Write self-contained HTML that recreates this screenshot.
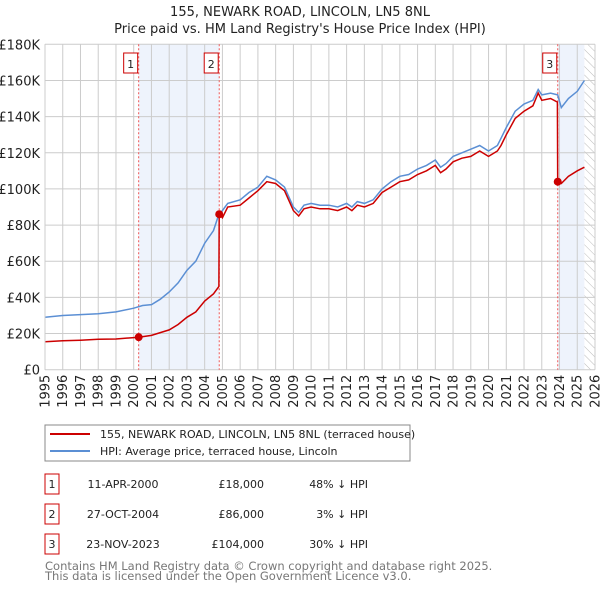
<!DOCTYPE html>
<html><head><meta charset="utf-8"><style>
body{margin:0;background:#fff;width:600px;height:590px;overflow:hidden;font-family:"Liberation Sans","DejaVu Sans",sans-serif}
svg text{font-family:"DejaVu Sans","Liberation Sans",sans-serif}
</style></head><body>
<svg id="chart" width="600" height="590" xmlns="http://www.w3.org/2000/svg">
<defs><pattern id="hatch" width="6" height="6" patternUnits="userSpaceOnUse" patternTransform="rotate(-45)"><line x1="0" y1="0" x2="0" y2="6" stroke="#bbb" stroke-width="1"/></pattern></defs>
<text x="300" y="16" text-anchor="middle" font-size="13" fill="#222">155, NEWARK ROAD, LINCOLN, LN5 8NL</text>
<text x="300" y="33" text-anchor="middle" font-size="13" fill="#222">Price paid vs. HM Land Registry's House Price Index (HPI)</text>
<g id="grid"></g><g id="plot"></g><g id="axes"></g>
<g>
<rect x="45" y="425" width="365" height="36" fill="#fff" stroke="#888"/>
<line x1="50" y1="434" x2="90" y2="434" stroke="#cc0000" stroke-width="2"/>
<text x="100" y="438" font-size="11" fill="#222">155, NEWARK ROAD, LINCOLN, LN5 8NL (terraced house)</text>
<line x1="50" y1="451" x2="90" y2="451" stroke="#5b8fd4" stroke-width="2"/>
<text x="100" y="455" font-size="11" fill="#222">HPI: Average price, terraced house, Lincoln</text>
</g>
<g id="table"></g>
<text x="45" y="570" font-size="11.5" fill="#777">Contains HM Land Registry data © Crown copyright and database right 2025.</text>
<text x="45" y="580" font-size="11.5" fill="#777">This data is licensed under the Open Government Licence v3.0.</text>
</svg>
<script>
const yTicks=[0,20000,40000,60000,80000,100000,120000,140000,160000,180000];
const yTickLabels=["£0","£20K","£40K","£60K","£80K","£100K","£120K","£140K","£160K","£180K"];
const xYears=[1995,1996,1997,1998,1999,2000,2001,2002,2003,2004,2005,2006,2007,2008,2009,2010,2011,2012,2013,2014,2015,2016,2017,2018,2019,2020,2021,2022,2023,2024,2025,2026];
const hpiT=[1995,1996,1997,1998,1999,2000,2000.5,2001,2001.5,2002,2002.5,2003,2003.5,2004,2004.5,2004.8,2005,2005.3,2006,2006.5,2007,2007.5,2008,2008.5,2009,2009.3,2009.6,2010,2010.5,2011,2011.5,2012,2012.3,2012.6,2013,2013.5,2014,2014.5,2015,2015.5,2016,2016.5,2017,2017.3,2017.6,2018,2018.5,2019,2019.5,2020,2020.5,2020.7,2021,2021.5,2022,2022.5,2022.8,2023,2023.5,2023.9,2024.1,2024.5,2025,2025.4];
const hpiV=[29,30,30.5,31,32,34,35.5,36,39,43,48,55,60,70,77,86,88,92,94,98,101,107,105,101,90,87,91,92,91,91,90,92,90,93,92,94,100,104,107,108,111,113,116,112,114,118,120,122,124,121,124,128,134,143,147,149,155,152,153,152,145,150,154,160];
const redT=[1995,1996,1997,1998,1999,2000.28,2001,2001.5,2002,2002.5,2003,2003.5,2004,2004.5,2004.8,2004.82,2005,2005.3,2006,2006.5,2007,2007.5,2008,2008.5,2009,2009.3,2009.6,2010,2010.5,2011,2011.5,2012,2012.3,2012.6,2013,2013.5,2014,2014.5,2015,2015.5,2016,2016.5,2017,2017.3,2017.6,2018,2018.5,2019,2019.5,2020,2020.5,2020.7,2021,2021.5,2022,2022.5,2022.8,2023,2023.5,2023.88,2023.9,2024.1,2024.5,2025,2025.4];
const redV=[15.5,16,16.3,16.8,17,18,19,20.5,22,25,29,32,38,42,46,86,84,90,91,95,99,104,103,99,88,85,89,90,89,89,88,90,88,91,90,92,98,101,104,105,108,110,113,109,111,115,117,118,121,118,121,124,130,139,143,146,153,149,150,148,104,103,107,110,112];
const saleT=[2000.28,2004.82,2023.9];
const saleV=[18000,86000,104000];
const saleLabels=["1","2","3"];
const saleDates=["11-APR-2000","27-OCT-2004","23-NOV-2023"];
const salePrices=["£18,000","£86,000","£104,000"];
const saleDiffs=["48% ↓ HPI","3% ↓ HPI","30% ↓ HPI"];
const X0=45,X1=595,Y0=369.7,Y1=44.3;
const xs=t=>X0+(t-1995)/31*(X1-X0);
const ys=v=>Y0-v/180000*(Y0-Y1);
const NS="http://www.w3.org/2000/svg";
function mk(tag,attrs,parent,text){const e=document.createElementNS(NS,tag);for(const k in attrs)e.setAttribute(k,attrs[k]);if(text!==undefined)e.textContent=text;parent.appendChild(e);return e;}
const grid=document.getElementById('grid'),plot=document.getElementById('plot'),axes=document.getElementById('axes'),table=document.getElementById('table');
// shading
let s=mk('rect',{x:xs(saleT[0]),y:Y1,width:xs(saleT[1])-xs(saleT[0]),height:Y0-Y1,fill:'#eef3fc'},grid);


s=mk('rect',{x:xs(saleT[2]),y:Y1,width:xs(2025.4)-xs(saleT[2]),height:Y0-Y1,fill:'#eef3fc'},grid);


s=mk('rect',{x:xs(2025.4),y:Y1,width:X1-xs(2025.4),height:Y0-Y1,fill:'url(#hatch)'},grid);


yTicks.forEach((v,i)=>{
 const l=mk('line',{x1:X0,x2:X1,y1:ys(v),y2:ys(v),stroke:'#ccc'},grid);
 
 
 const t=mk('text',{x:X0-5,y:ys(v)+5,'text-anchor':'end','font-size':'13',fill:'#222'},axes,yTickLabels[i]);
 
 
});
xYears.forEach(yr=>{
 const l=mk('line',{x1:xs(yr),x2:xs(yr),y1:Y1,y2:Y0,stroke:'#ccc'},grid);
 
 
 const x=xs(yr),y=Y0+5;
 const t=mk('text',{x:x+4.5,y:y,'text-anchor':'end','font-size':'13',fill:'#222',transform:`rotate(-90 ${x+4.5} ${y})`},axes,String(yr));
 
 
});
saleT.forEach((t,i)=>{
 const l=mk('line',{x1:xs(t),x2:xs(t),y1:Y1,y2:Y0,stroke:'#e55','stroke-dasharray':'2,2'},grid);
 
 
 const r=mk('rect',{x:xs(t)-15,y:53,width:14,height:20,fill:'#fff',stroke:'#c00'},grid);
 
 
 mk('text',{x:xs(t)-8,y:68,'text-anchor':'middle','font-size':'11',fill:'#222'},grid,saleLabels[i]);
});
const hp=mk('path',{d:hpiT.map((t,i)=>(i?'L':'M')+xs(t).toFixed(1)+','+ys(hpiV[i]*1000).toFixed(1)).join(''),fill:'none',stroke:'#5b8fd4','stroke-width':1.5},plot);


const rp=mk('path',{d:redT.map((t,i)=>(i?'L':'M')+xs(t).toFixed(1)+','+ys(redV[i]*1000).toFixed(1)).join(''),fill:'none',stroke:'#cc0000','stroke-width':1.5},plot);


saleT.forEach((t,i)=>{
 const c=mk('circle',{cx:xs(t),cy:ys(saleV[i]),r:4,fill:'#cc0000'},plot);
 
 
});
mk('line',{x1:X0,x2:X0,y1:Y1,y2:Y0,stroke:'#ccc'},axes);
saleLabels.forEach((lab,i)=>{
 const y=483+i*30;
 const r=mk('rect',{x:45,y:y-9,width:14,height:20,fill:'#fff',stroke:'#c00'},table);
 
 
 mk('text',{x:52,y:y+5,'text-anchor':'middle','font-size':'11',fill:'#222'},table,lab);
 const d=mk('text',{x:123,y:y+5,'text-anchor':'middle','font-size':'11',fill:'#222'},table,saleDates[i]);
 
 
 const p=mk('text',{x:264,y:y+5,'text-anchor':'end','font-size':'11',fill:'#222'},table,salePrices[i]);
 
 
 const h=mk('text',{x:368,y:y+5,'text-anchor':'end','font-size':'11',fill:'#222'},table,saleDiffs[i]);
 
 
});
</script>
</body></html>
